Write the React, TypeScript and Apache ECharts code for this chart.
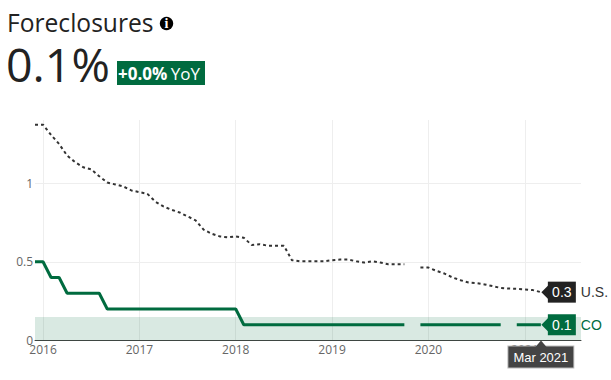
import React, { useEffect, useRef } from "react";
import * as echarts from "echarts";

const FONT = "'Open Sans', sans-serif";
const GREEN = "#006b3f";
const DARK = "#222222";

const years = [2016, 2017, 2018, 2019, 2020, 2021];
const monthNames = ["Jan", "Feb", "Mar", "Apr", "May", "Jun", "Jul", "Aug", "Sep", "Oct", "Nov", "Dec"];
const months: string[] = ["Dec 2015"];
years.forEach((y) => monthNames.forEach((m) => { if (y < 2021 || monthNames.indexOf(m) < 8) months.push(m + " " + y); }));

const usValues = [
  1.37, 1.37, 1.305, 1.248, 1.174, 1.132, 1.1, 1.087, 1.043, 1.003, 0.991, 0.978, 0.953, 0.942, 0.931, 0.881,
  0.851, 0.83, 0.813, 0.788, 0.763, 0.704, 0.678, 0.661, 0.655, 0.661, 0.652, 0.606, 0.611, 0.602, 0.602, 0.602,
  0.51, 0.503, 0.503, 0.503, 0.503, 0.51, 0.514, 0.514, 0.503, 0.495, 0.503, 0.495, 0.484, 0.484, 0.484, null,
  0.463, 0.463, 0.442, 0.425, 0.4, 0.383, 0.368, 0.364, 0.356, 0.345, 0.334, 0.33, 0.328, 0.324, 0.32, 0.307,
];
const coValues = [
  0.5, 0.5, 0.4, 0.4, 0.3, 0.3, 0.3, 0.3, 0.3, 0.2, 0.2, 0.2, 0.2, 0.2, 0.2, 0.2,
  0.2, 0.2, 0.2, 0.2, 0.2, 0.2, 0.2, 0.2, 0.2, 0.2, 0.1, 0.1, 0.1, 0.1, 0.1, 0.1,
  0.1, 0.1, 0.1, 0.1, 0.1, 0.1, 0.1, 0.1, 0.1, 0.1, 0.1, 0.1, 0.1, 0.1, 0.1, null,
  0.1, 0.1, 0.1, 0.1, 0.1, 0.1, 0.1, 0.1, 0.1, 0.1, 0.1, null, 0.1, 0.1, 0.1, 0.1,
];
const bandTop = 0.15;
const lastMonth = "Mar 2021";

const isJan = (_i: number, v: string) => v.startsWith("Jan");

function endBadge(name: string, shown: string, bg: string, nameColor: string) {
  return {
    show: true,
    distance: 7,
    formatter: () => `{b|${shown}}{n|${name}}`,
    rich: {
      b: { backgroundColor: bg, color: "#fff", fontFamily: "'Liberation Sans', sans-serif", fontSize: 14, width: 28, height: 21, align: "center", lineHeight: 21 },
      n: { color: nameColor, fontFamily: "'Liberation Sans', sans-serif", fontSize: 14, padding: [0, 0, 0, 5] },
    },
  };
}

function pointer(value: number, color: string) {
  return {
    silent: true,
    symbol: "triangle",
    symbolRotate: 90,
    symbolSize: [14, 7],
    symbolOffset: [4, 0],
    itemStyle: { color },
    label: { show: false },
    data: [{ coord: [lastMonth, value] }],
  };
}

export default function App() {
  const ref = useRef<HTMLDivElement>(null);
  useEffect(() => {
    const chart = echarts.init(ref.current!, undefined, { renderer: "svg" });
    chart.setOption({
      animation: false,
      textStyle: { fontFamily: FONT },
      grid: { left: 35, right: 30, top: 120, bottom: 39.5, containLabel: false },
      xAxis: {
        type: "category",
        data: months,
        boundaryGap: false,
        axisTick: { show: false },
        axisLine: { lineStyle: { color: "#444", width: 1 } },
        axisLabel: {
          interval: isJan,
          formatter: (v: string) => v.slice(4),
          color: "#666",
          fontSize: 12,
          margin: 3,
          fontFamily: FONT,
        },
        splitLine: { show: true, interval: isJan, lineStyle: { color: "#eeeeee", width: 1 } },
        axisPointer: {
          show: true,
          value: lastMonth,
          status: "show",
          type: "line",
          lineStyle: { opacity: 0 },
          label: {
            show: true,
            margin: 6,
            backgroundColor: "#444444",
            borderColor: "#bbbbbb",
            borderWidth: 1,
            borderRadius: 0,
            color: "#fff",
            fontFamily: "'Liberation Sans', sans-serif",
            fontSize: 13,
            padding: [4, 5, 4, 5],
            shadowBlur: 0,
          },
        },
      },
      yAxis: {
        type: "value",
        min: 0,
        max: 1.4,
        interval: 0.5,
        axisLine: { show: false },
        axisTick: { show: false },
        axisLabel: {
          color: "#666",
          fontSize: 12,
          margin: 2,
          fontFamily: FONT,
          showMaxLabel: false,
        },
        splitLine: { show: true, showMaxLine: false, showMinLine: false, lineStyle: { color: "#eeeeee", width: 1 } },
      },
      series: [
        {
          name: "U.S.",
          type: "line",
          data: usValues,
          showSymbol: false,
          connectNulls: false,
          lineStyle: { color: "#333", width: 2, type: [3, 3] },
          endLabel: { ...endBadge("U.S.", "0.3", DARK, "#333") },
          markPoint: pointer(usValues[usValues.length - 1] as number, DARK),
          z: 3,
        },
        {
          name: "CO",
          type: "line",
          data: coValues,
          showSymbol: false,
          connectNulls: false,
          lineStyle: { color: GREEN, width: 3 },
          endLabel: { ...endBadge("CO", "0.1", GREEN, GREEN) },
          markPoint: pointer(coValues[coValues.length - 1] as number, GREEN),
          markArea: {
            silent: true,
            itemStyle: { color: "rgba(0,107,63,0.15)" },
            label: { show: false },
            data: [[{ xAxis: months[0], yAxis: 0 }, { xAxis: months[months.length - 1], yAxis: bandTop }]],
          },
          z: 3,
        },
      ],
      graphic: [
        { type: "text", x: 7, y: 22, style: { text: "Foreclosures", fontFamily: FONT, fontSize: 24.6, fill: "#222", verticalAlign: "middle", lineHeight: 26 } },
        { type: "circle", shape: { cx: 166.5, cy: 23.5, r: 6.7 }, style: { fill: "#000" } },
        { type: "text", x: 166.5, y: 23.5, style: { text: "i", fontFamily: "'Liberation Serif'", fontWeight: "bold", fontSize: 14, fill: "#fff", align: "center", verticalAlign: "middle" } },
        { type: "text", x: 6, y: 63.5, style: { text: "0.1%", fontFamily: FONT, fontSize: 46.5, fill: "#222", verticalAlign: "middle", lineHeight: 36 } },
        { type: "rect", shape: { x: 117, y: 61, width: 88, height: 24 }, style: { fill: GREEN } },
        {
          type: "text",
          x: 118,
          y: 73,
          style: {
            text: "{a|+0.0%} {c|YoY}",
            verticalAlign: "middle",
            rich: {
              a: { fontFamily: FONT, fontSize: 17, fontWeight: "bold", fill: "#fff", color: "#fff" },
              c: { fontFamily: FONT, fontSize: 17, fill: "#fff", color: "#fff" },
            },
          },
        },
        { type: "polygon", z: 100, shape: { points: [[535, 347.5], [541, 340.5], [547, 347.5]] }, style: { fill: "#444" } },
      ],
    });
    return () => chart.dispose();
  }, []);
  return <div ref={ref} style={{ position: "absolute", left: 0, top: 0, width: 611, height: 380 }} />;
}
